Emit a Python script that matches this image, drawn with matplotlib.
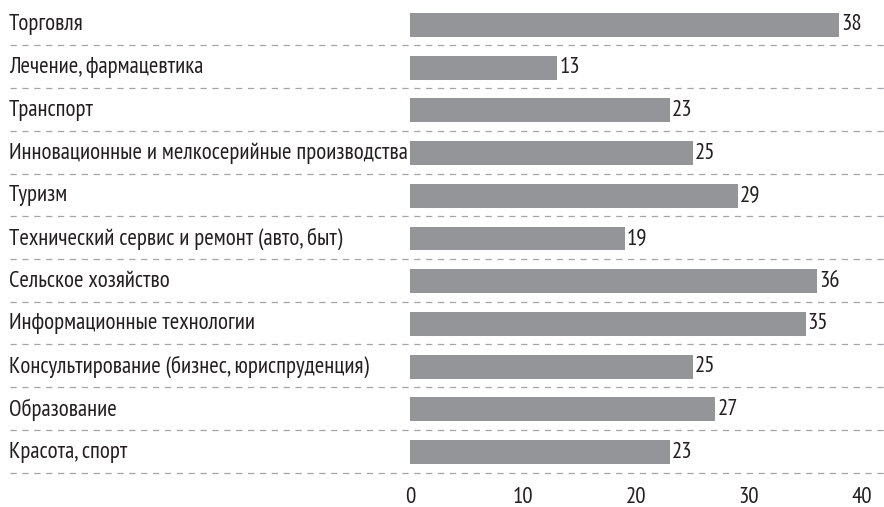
import matplotlib
matplotlib.use("Agg")
import matplotlib.pyplot as plt
import matplotlib.transforms as mtransforms

categories = [
    "Торговля",
    "Лечение, фармацевтика",
    "Транспорт",
    "Инновационные и мелкосерийные производства",
    "Туризм",
    "Технический сервис и ремонт (авто, быт)",
    "Сельское хозяйство",
    "Информационные технологии",
    "Консультирование (бизнес, юриспруденция)",
    "Образование",
    "Красота, спорт",
]
values = [38, 13, 23, 25, 29, 19, 36, 35, 25, 27, 23]
x_ticks = [0, 10, 20, 30, 40]

# condensed face close to the original
plt.rcParams["font.family"] = ["PT Sans Narrow", "DejaVu Sans"]

BAR = "#939598"
TXT = "#231f20"
W, H = 884, 507
FS = 16.5

fig = plt.figure(figsize=(W / 100, H / 100), dpi=100)
left, right = 410 / W, 1.0
top, bottom = 1 - 3.6 / H, 1 - 473.4 / H
ax = fig.add_axes([left, bottom, right - left, top - bottom])

n = len(categories)
ypos = list(range(n))
ax.barh(ypos, values, height=0.56, color=BAR, edgecolor="none")
ax.set_ylim(n - 0.5, -0.5)
ax.set_xlim(0, 474 / 11.3)

for y, v in zip(ypos, values):
    ax.text(v + 0.2, y, str(v), va="center", ha="left", fontsize=FS, color=TXT)

trans = mtransforms.blended_transform_factory(fig.transFigure, ax.transData)
for y, lab in zip(ypos, categories):
    ax.text(9 / W, y, lab, transform=trans, va="center", ha="left", fontsize=FS, color=TXT)

# dashed separators under each row
for y in ypos:
    ax.plot([10 / W, 1.0], [y + 0.48, y + 0.48], transform=trans, clip_on=False,
            color="#a3a5a8", lw=0.9, ls=(0, (5, 4.5)))

ax.set_yticks([])
ax.set_xticks(x_ticks)
ax.set_xticklabels([str(t) for t in x_ticks], fontsize=FS, color=TXT)
ax.tick_params(axis="x", length=0, pad=10)
for s in ax.spines.values():
    s.set_visible(False)

fig.savefig("out.png", dpi=100)
